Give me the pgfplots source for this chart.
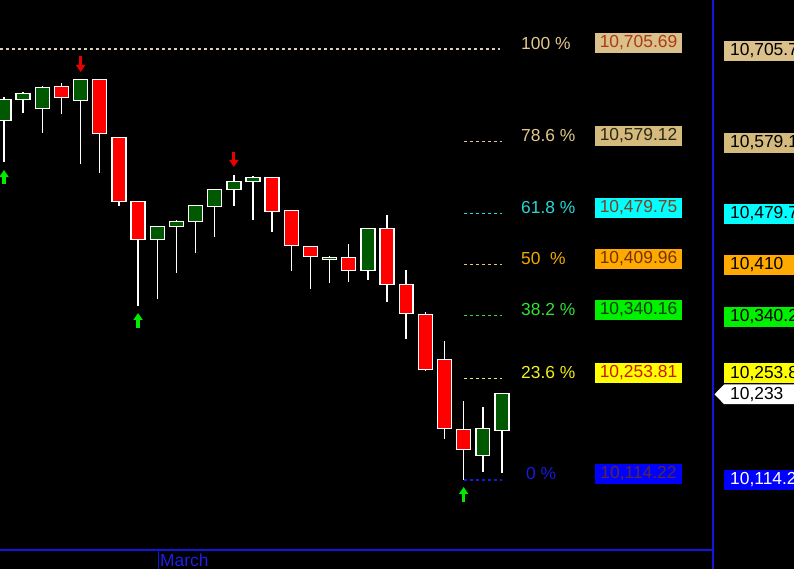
\documentclass[border=0pt]{standalone}
\usepackage{pgfplots}
\pgfplotsset{compat=1.18}
\usetikzlibrary{arrows.meta}
\usepackage{fontspec}
\setmainfont{Liberation Sans}
\definecolor{cgreen}{RGB}{0,88,0}
\definecolor{cred}{RGB}{255,0,0}
\definecolor{agreen}{RGB}{0,235,0}
\definecolor{ared}{RGB}{235,0,0}
\definecolor{axblue}{RGB}{20,20,225}
\definecolor{tanT}{RGB}{226,200,140}
\definecolor{tanB}{RGB}{218,192,138}
\definecolor{tanB2}{RGB}{212,186,124}
\definecolor{cyanT}{RGB}{40,215,215}
\definecolor{cyanB}{RGB}{0,255,255}
\definecolor{orT}{RGB}{240,170,0}
\definecolor{orB}{RGB}{255,170,0}
\definecolor{grT}{RGB}{50,225,50}
\definecolor{grB}{RGB}{0,240,0}
\definecolor{yeT}{RGB}{240,240,30}
\definecolor{yeB}{RGB}{255,255,0}
\definecolor{blT}{RGB}{25,25,225}
\definecolor{blB}{RGB}{0,0,255}
% candle: x, left, right, colour, low, body low, body high, high
\newcommand{\candle}[8]{%
  \addplot[white, line width=1.4bp] coordinates {(#1,#5) (#1,#8)};
  \addplot[draw=white, fill=#4, line width=1.4bp] coordinates {(#2,#6) (#3,#6) (#3,#7) (#2,#7)} --cycle;}
\newcommand{\fs}{\fontsize{17.4bp}{20bp}\selectfont}
\begin{document}
\begin{tikzpicture}
\useasboundingbox (0,0) rectangle (794bp,569bp);
\clip (0,0) rectangle (794bp,569bp);
\fill[black] (0,0) rectangle (794bp,569bp);
\begin{axis}[at={(0,19bp)}, anchor=south west, width=713bp, height=550bp,
  scale only axis, xmin=-0.209, xmax=37.02, ymin=10018.2, ymax=10772.9,
  axis lines=none, clip=false]
% fib lines
\addplot[color={rgb,255:red,215;green,205;blue,185}, line width=1.1bp, dash pattern=on 3bp off 3bp] coordinates {(-0.21,10705.69) (25.9,10705.69)};
\addplot[tanT, line width=1.1bp, dash pattern=on 3bp off 3bp] coordinates {(24.02,10579.12) (26.0,10579.12)};
\addplot[cyanT, line width=1.1bp, dash pattern=on 3bp off 3bp] coordinates {(24.02,10479.75) (26.0,10479.75)};
\addplot[color={rgb,255:red,225;green,205;blue,100}, line width=1.1bp, dash pattern=on 3bp off 3bp] coordinates {(24.02,10409.96) (26.0,10409.96)};
\addplot[color={rgb,255:red,60;green,210;blue,60}, line width=1.1bp, dash pattern=on 3bp off 3bp] coordinates {(24.02,10340.16) (26.0,10340.16)};
\addplot[color={rgb,255:red,235;green,235;blue,120}, line width=1.1bp, dash pattern=on 3bp off 3bp] coordinates {(24.02,10253.81) (26.0,10253.81)};
\addplot[blT, line width=1.1bp, dash pattern=on 3bp off 3bp] coordinates {(24.02,10114.22) (26.0,10114.22)};
% candles
\candle{0}{-0.365}{0.365}{cgreen}{10551.0}{10607.3}{10636.7}{10639.4}
\candle{1}{0.635}{1.365}{cgreen}{10617.4}{10636.7}{10644.9}{10646.7}
\candle{2}{1.635}{2.365}{cgreen}{10590.8}{10624.3}{10653.1}{10654.9}
\candle{3}{2.635}{3.365}{cred}{10616.1}{10639.4}{10654.5}{10658.6}
\candle{4}{3.635}{4.365}{cgreen}{10547.5}{10634.7}{10664.1}{10664.5}
\candle{5}{4.635}{5.365}{cred}{10535.9}{10590.0}{10664.1}{10664.1}
\candle{6}{5.635}{6.365}{cred}{10490.6}{10496.7}{10584.5}{10584.5}
\candle{7}{6.635}{7.365}{cred}{10353.4}{10444.5}{10496.7}{10496.7}
\candle{8}{7.635}{8.365}{cgreen}{10362.2}{10444.5}{10462.4}{10462.4}
\candle{9}{8.635}{9.365}{cgreen}{10398.7}{10462.4}{10469.2}{10471.0}
\candle{10}{9.635}{10.365}{cgreen}{10425.3}{10469.2}{10491.2}{10491.2}
\candle{11}{10.635}{11.365}{cgreen}{10447.3}{10489.8}{10513.2}{10513.2}
\candle{12}{11.635}{12.365}{cgreen}{10490.6}{10513.2}{10524.1}{10532.8}
\candle{13}{12.635}{13.365}{cgreen}{10471.0}{10524.1}{10529.6}{10531.4}
\candle{14}{13.635}{14.365}{cred}{10455.0}{10482.4}{10529.6}{10529.6}
\candle{15}{14.635}{15.365}{cred}{10401.5}{10436.3}{10484.3}{10484.3}
\candle{16}{15.635}{16.365}{cred}{10376.8}{10421.2}{10434.9}{10434.9}
\candle{17}{16.635}{17.365}{cgreen}{10385.0}{10417.1}{10419.8}{10421.6}
\candle{18}{17.635}{18.365}{cred}{10386.4}{10402.0}{10419.8}{10438.1}
\candle{19}{18.635}{19.365}{cgreen}{10389.1}{10402.0}{10459.6}{10459.6}
\candle{20}{19.635}{20.365}{cred}{10358.9}{10382.8}{10459.6}{10477.9}
\candle{21}{20.635}{21.365}{cred}{10308.1}{10342.4}{10382.8}{10402.4}
\candle{22}{21.635}{22.365}{cred}{10263.4}{10266.1}{10341.6}{10344.4}
\candle{23}{22.635}{23.365}{cred}{10170.9}{10185.2}{10279.9}{10305.0}
\candle{24}{23.635}{24.365}{cred}{10114.2}{10156.4}{10183.8}{10222.6}
\candle{25}{24.635}{25.365}{cgreen}{10125.6}{10148.1}{10185.2}{10214.8}
\candle{26}{25.635}{26.365}{cgreen}{10124.3}{10182.4}{10233.0}{10233.0}
% signal arrows
\addplot[agreen, line width=3.2bp, -{Triangle[width=9bp,length=7bp]}] coordinates {(0,10520.4) (0,10539.6)};
\addplot[agreen, line width=3.2bp, -{Triangle[width=9bp,length=7bp]}] coordinates {(7,10322.8) (7,10343.4)};
\addplot[agreen, line width=3.2bp, -{Triangle[width=9bp,length=7bp]}] coordinates {(24,10084.0) (24,10104.6)};
\addplot[ared, line width=3.2bp, -{Triangle[width=9bp,length=7bp]}] coordinates {(4,10696.0) (4,10674.1)};
\addplot[ared, line width=3.2bp, -{Triangle[width=9bp,length=7bp]}] coordinates {(12,10564.3) (12,10543.8)};
\end{axis}
% frame lines
\draw[axblue, line width=1.4bp] (0,19bp) -- (713bp,19bp);
\draw[axblue, line width=1.4bp] (713bp,0) -- (713bp,569bp);
\draw[axblue, line width=1.4bp] (158.5bp,0) -- (158.5bp,19bp);
\node[anchor=west, inner sep=0pt, text={rgb,255:red,30;green,30;blue,230}, font=\fs] at (160bp,8.5bp) {March};
% fib labels
\node[anchor=west, inner sep=0pt, text=tanT, font=\fs] at (521bp,525bp) {100 \%};
\node[anchor=west, inner sep=0pt, text=tanT, font=\fs] at (521bp,433bp) {78.6 \%};
\node[anchor=west, inner sep=0pt, text=cyanT, font=\fs] at (521bp,361bp) {61.8 \%};
\node[anchor=west, inner sep=0pt, text=orT, font=\fs] at (521bp,310bp) {50\hspace{0.55em}\%};
\node[anchor=west, inner sep=0pt, text=grT, font=\fs] at (521bp,259bp) {38.2 \%};
\node[anchor=west, inner sep=0pt, text=yeT, font=\fs] at (521bp,196bp) {23.6 \%};
\node[anchor=west, inner sep=0pt, text=blT, font=\fs] at (526bp,95bp) {0 \%};
% value boxes
\tikzset{vb/.style={minimum width=87bp, minimum height=20bp, inner sep=0pt, font=\fs}}
\node[vb, fill=tanB, text={rgb,255:red,170;green,60;blue,20}] at (638.5bp,526bp) {10,705.69};
\node[vb, fill=tanB2, text={rgb,255:red,45;green,40;blue,20}] at (638.5bp,433bp) {10,579.12};
\node[vb, fill=cyanB, text={rgb,255:red,125;green,65;blue,35}] at (638.5bp,361bp) {10,479.75};
\node[vb, fill=orB, text={rgb,255:red,120;green,50;blue,0}] at (638.5bp,310bp) {10,409.96};
\node[vb, fill=grB, text={rgb,255:red,10;green,60;blue,10}] at (638.5bp,259bp) {10,340.16};
\node[vb, fill=yeB, text={rgb,255:red,205;green,25;blue,0}] at (638.5bp,196bp) {10,253.81};
\node[vb, fill=blB, text={rgb,255:red,85;green,40;blue,70}] at (638.5bp,95bp) {10,114.22};
% right-axis labels
\tikzset{rb/.style={anchor=west, minimum height=20bp, inner xsep=6bp, inner ysep=0pt, text width=84bp, font=\fs}}
\node[rb, fill=tanB] at (724bp,518bp) {10,705.7};
\node[rb, fill=tanB2] at (724bp,426.3bp) {10,579.1};
\node[rb, fill=cyanB] at (724bp,355bp) {10,479.7};
\node[rb, fill=orB] at (724bp,304bp) {10,410};
\node[rb, fill=grB] at (724bp,252.3bp) {10,340.2};
\node[rb, fill=yeB] at (724bp,195.7bp) {10,253.8};
\fill[white] (714.5bp,174.7bp) -- (724bp,184.5bp) -- (800bp,184.5bp) -- (800bp,164.9bp) -- (724bp,164.9bp) -- cycle;
\node[anchor=west, inner sep=0pt, font=\fs, text=black] at (730bp,174.7bp) {10,233};
\node[rb, fill=blB, text=white] at (724bp,89bp) {10,114.2};
\end{tikzpicture}
\end{document}
